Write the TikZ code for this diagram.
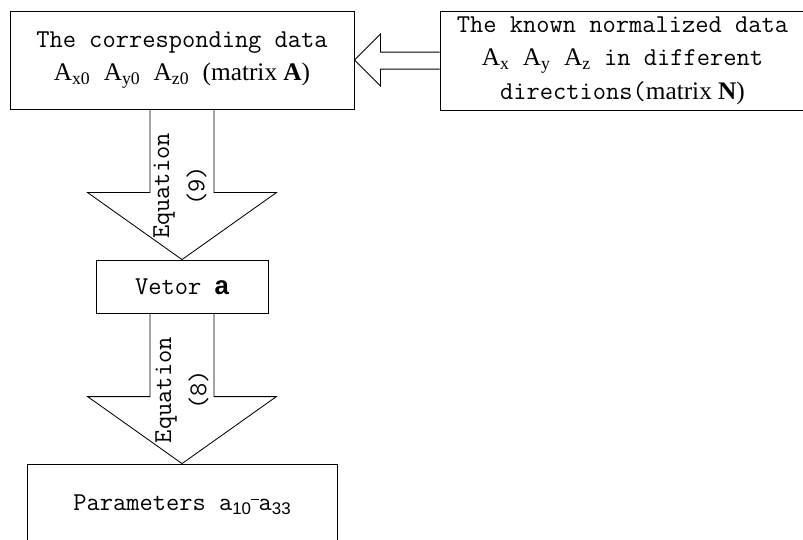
\documentclass[tikz,border=0pt]{standalone}
\usepackage{fontspec}
\setsansfont{Liberation Sans}
\newfontfamily\timesfont{Liberation Serif}
\usetikzlibrary{calc}
\newcommand\tnr[1]{{\timesfont\fontsize{18}{24}\selectfont #1}}
\newcommand\psub[1]{\raisebox{-0.15em}{\sffamily\fontsize{12}{12}\selectfont #1}}

\begin{document}
\begin{tikzpicture}[line join=miter]
  \tikzset{
    box/.style={draw, line width=0.6pt, align=center, inner sep=0pt, font=\ttfamily\fontsize{18.3}{24}\selectfont},
    block/.style={draw, line width=0.6pt},
    eqlabel/.style={rotate=90, align=center, inner sep=0pt, font=\ttfamily\fontsize{18.3}{25}\selectfont}
  }
  \useasboundingbox (0,0) rectangle (20.075,13.475);

  % Data boxes on top
  \node[box, minimum width=8.6cm, minimum height=2.45cm] (corr) at (4.55,11.975)
    {The corresponding data\\\tnr{A\textsubscript{x0}} \tnr{A\textsubscript{y0}} \tnr{A\textsubscript{z0}} \tnr{(matrix \textbf{A})}};
  \node[box, minimum width=9.125cm, minimum height=2.475cm] (known) at (15.5625,11.96)
    {The known normalized data\\\tnr{A\textsubscript{x}} \tnr{A\textsubscript{y}} \tnr{A\textsubscript{z}} in different\\directions(\tnr{matrix \textbf{N})}};

  % Vector and parameters
  \node[box, minimum width=4.3cm, minimum height=1.325cm] (vec) at (4.55,6.3125)
    {Vetor {\sffamily\bfseries a}};
  \node[box, minimum width=7.75cm, minimum height=2.05cm] (params) at (4.55,0.85)
    {Parameters a\psub{10}\rule[0.42em]{0.3em}{0.05em}a\psub{33}};

  % Hollow arrow from known data to corresponding data
  \draw[block] ($(known.west)+(0,0.2125)$) -| ($(corr.east)+(0.65,0.65)$)
    -- (corr.east) -- ($(corr.east)+(0.65,-0.65)$) |- ($(known.west)+(0,-0.2125)$);

  % Equation (9)
  \draw[block] ($(corr.south)+(-0.8,0)$) |- ($(vec.north)+(-2.36,1.675)$)
    -- (vec.north) -- ($(vec.north)+(2.36,1.675)$) -| ($(corr.south)+(0.8,0)$);
  \node[eqlabel] (eqnine) at (4.5,8.825) {Equation\\(9)};

  % Equation (8)
  \draw[block] ($(vec.south)+(-0.8,0)$) |- ($(params.north)+(-2.36,1.675)$)
    -- (params.north) -- ($(params.north)+(2.36,1.675)$) -| ($(vec.south)+(0.8,0)$);
  \node[eqlabel] (eqeight) at (4.55,3.725) {Equation\\(8)};
\end{tikzpicture}
\end{document}
